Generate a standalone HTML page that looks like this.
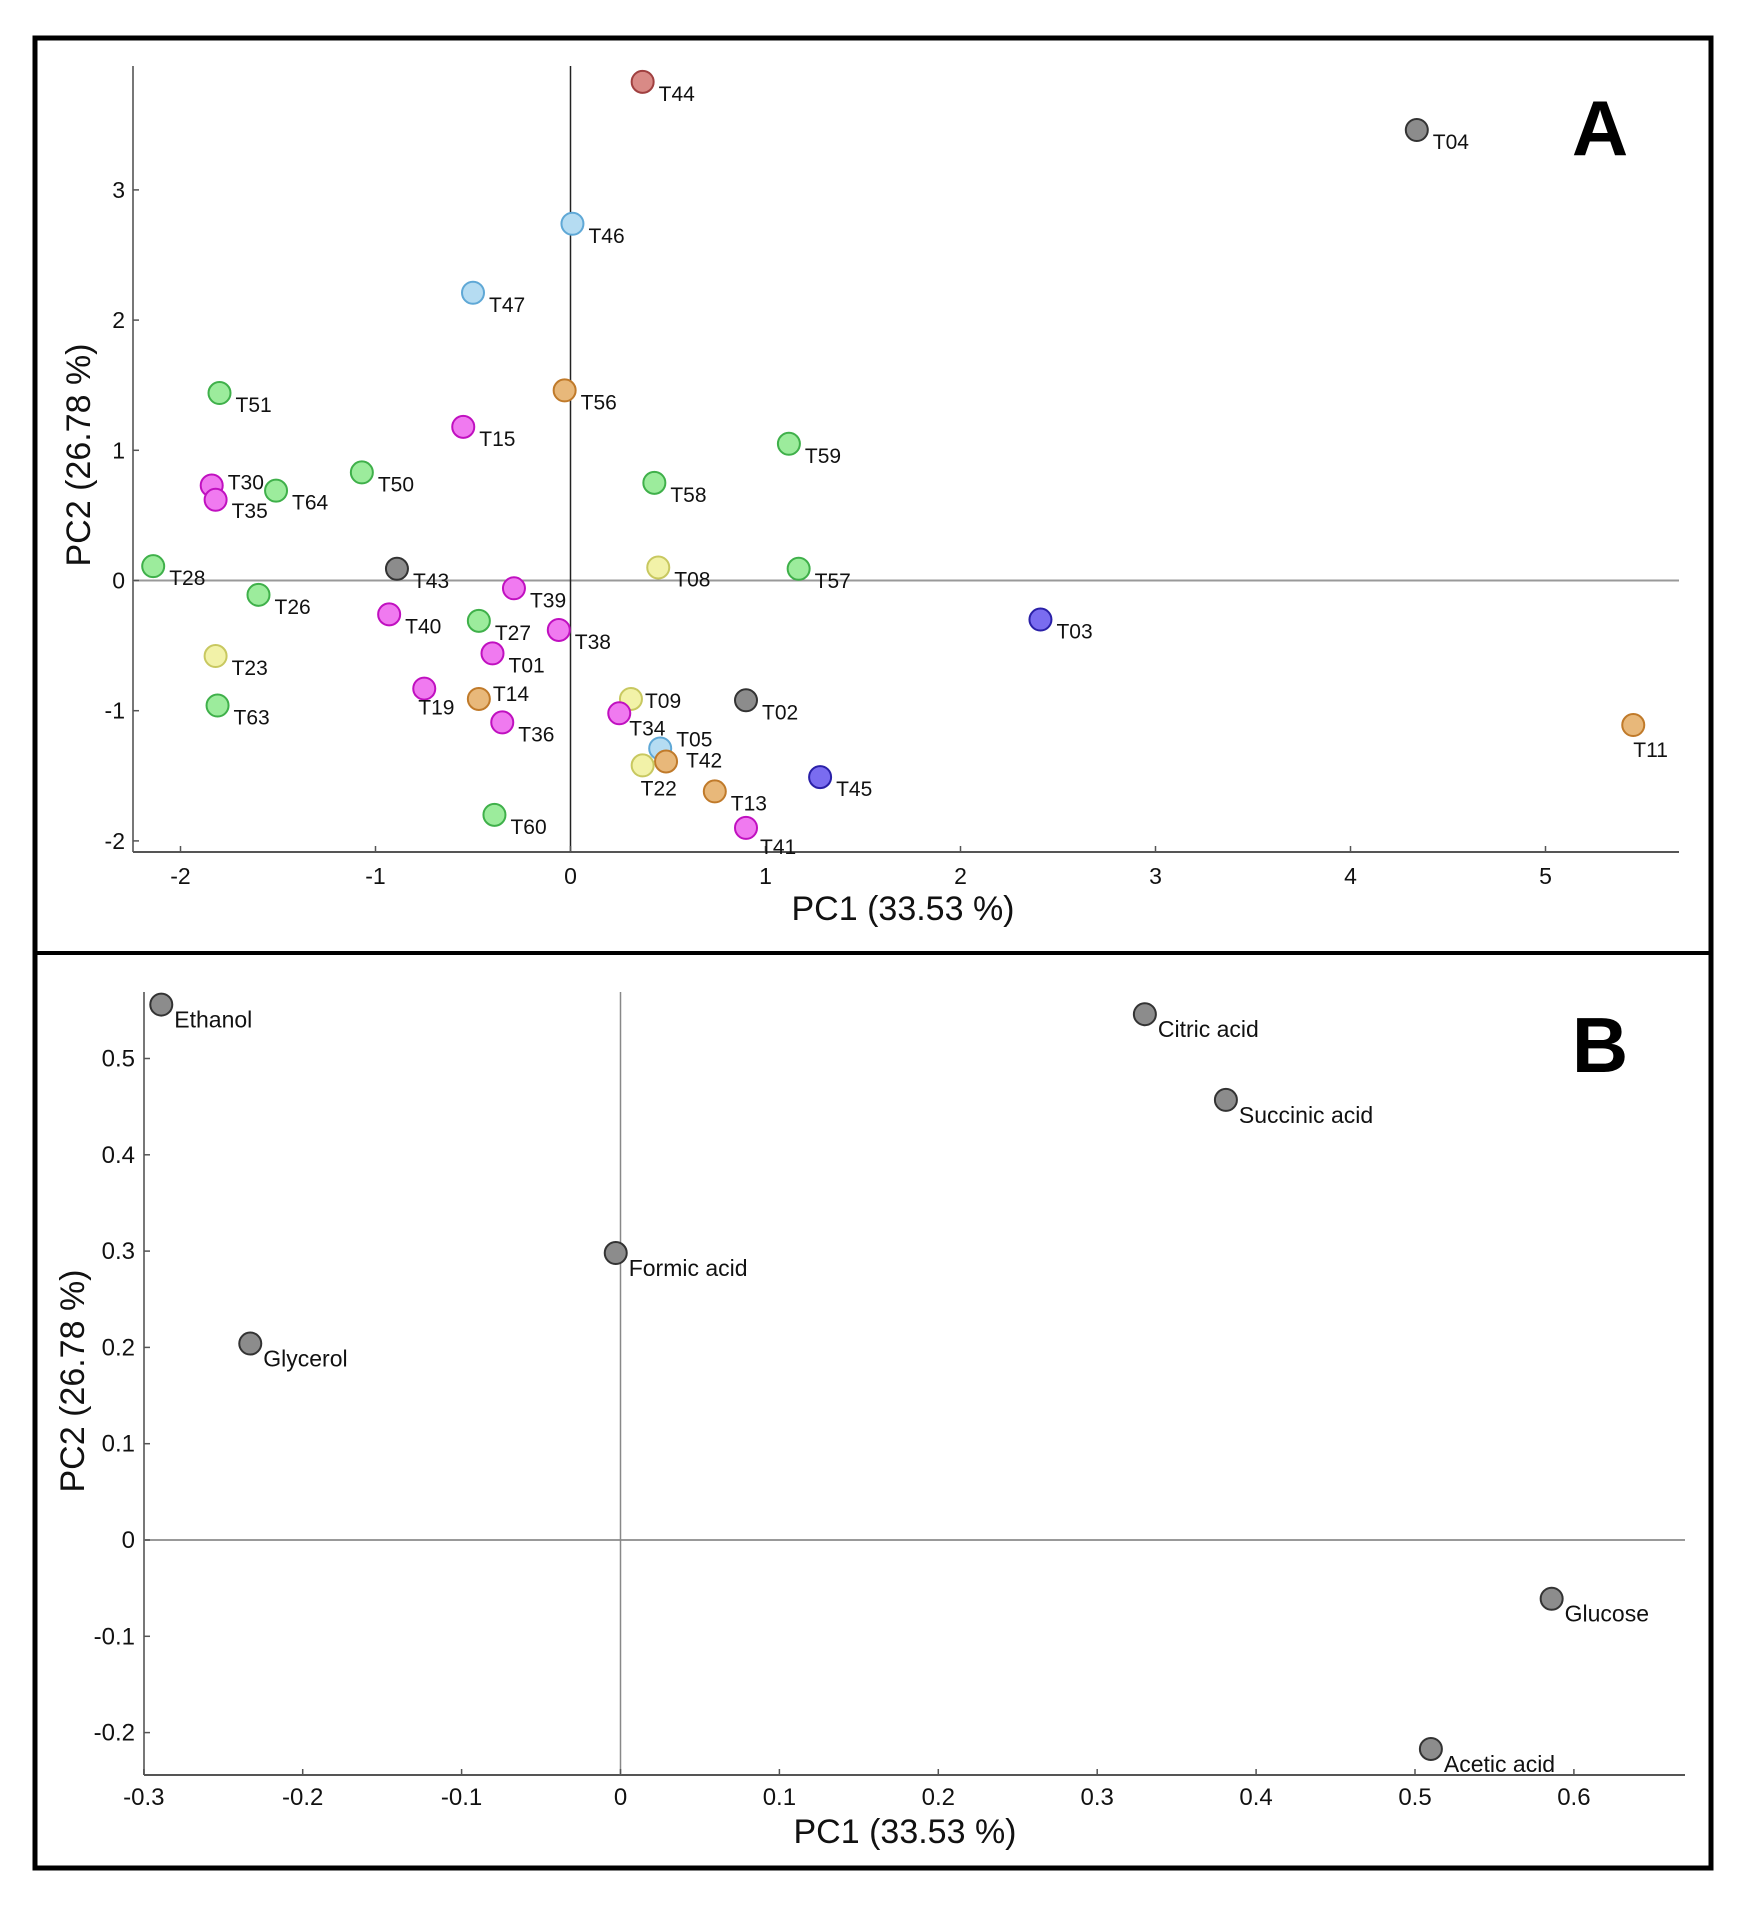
<!DOCTYPE html>
<html><head><meta charset="utf-8">
<style>
html,body{margin:0;padding:0;background:#fff;}
svg{display:block;font-family:"Liberation Sans",Arial,sans-serif;}
</style></head>
<body>
<svg id="chart" width="1748" height="1910" viewBox="0 0 1748 1910" xmlns="http://www.w3.org/2000/svg">
<rect x="35" y="38" width="1676" height="1830" fill="#fff" stroke="#000" stroke-width="5"/>
<line x1="35" y1="953" x2="1711" y2="953" stroke="#000" stroke-width="4"/>
<text x="1600" y="155" font-size="78" font-weight="bold" text-anchor="middle" fill="#000">A</text>
<text x="1600" y="1072" font-size="78" font-weight="bold" text-anchor="middle" fill="#000">B</text>
<g id="gA"></g>
<g id="gB"></g>
</svg>
<script>
// Panel A data
const aNames = ["T44","T04","T46","T47","T51","T56","T15","T59","T50","T58","T30","T64","T35","T28","T43","T08","T57","T39","T26","T40","T27","T03","T38","T01","T23","T09","T02","T19","T14","T63","T34","T36","T11","T05","T42","T22","T45","T13","T60","T41"];
const aPC1 = [0.37,4.34,0.01,-0.50,-1.80,-0.03,-0.55,1.12,-1.07,0.43,-1.84,-1.51,-1.82,-2.14,-0.89,0.45,1.17,-0.29,-1.60,-0.93,-0.47,2.41,-0.06,-0.40,-1.82,0.31,0.90,-0.75,-0.47,-1.81,0.25,-0.35,5.45,0.46,0.49,0.37,1.28,0.74,-0.39,0.90];
const aPC2 = [3.83,3.46,2.74,2.21,1.44,1.46,1.18,1.05,0.83,0.75,0.73,0.69,0.62,0.11,0.09,0.10,0.09,-0.06,-0.11,-0.26,-0.31,-0.30,-0.38,-0.56,-0.58,-0.91,-0.92,-0.83,-0.91,-0.96,-1.02,-1.09,-1.11,-1.29,-1.39,-1.42,-1.51,-1.62,-1.80,-1.90];
const aGroup = ["red","gray","blue","blue","green","orange","pink","green","green","green","pink","green","pink","green","gray","yellow","green","pink","green","pink","green","navy","pink","pink","yellow","yellow","gray","pink","orange","green","pink","pink","orange","blue","orange","yellow","navy","orange","green","pink"];
const aXTicks = [-2,-1,0,1,2,3,4,5];
const aYTicks = [-2,-1,0,1,2,3];
// Panel B data
const bNames = ["Ethanol","Citric acid","Succinic acid","Formic acid","Glycerol","Glucose","Acetic acid"];
const bPC1 = [-0.289,0.330,0.381,-0.003,-0.233,0.586,0.510];
const bPC2 = [0.556,0.546,0.457,0.298,0.204,-0.061,-0.217];
const bXTicks = [-0.3,-0.2,-0.1,0,0.1,0.2,0.3,0.4,0.5,0.6];
const bYTicks = [-0.2,-0.1,0,0.1,0.2,0.3,0.4,0.5];

const colors = {
  red:["#d98a86","#a04040"], gray:["#8c8c8c","#333"], blue:["#b5dcf2","#5fa8d6"],
  green:["#9cec9c","#3fb04a"], orange:["#e8b87a","#c07a2a"], pink:["#f07af0","#c010c0"],
  yellow:["#f2f2a8","#c8c860"], navy:["#7a6cf0","#2a20a8"]
};
const labelOff = {T19:[-6,22],T34:[10,18],T22:[-2,26],T41:[14,22],T11:[0,28],T05:[16,-6],T42:[20,2],T30:[16,0],T35:[16,14],T09:[14,5],T14:[14,-2]};

const NS="http://www.w3.org/2000/svg";
function mk(parent,tag,attrs,text){
  const e=document.createElementNS(NS,tag);
  for(const k in attrs) e.setAttribute(k,attrs[k]);
  if(text!==undefined) e.textContent=text;
  parent.appendChild(e); return e;
}
function fmt(v){return (Math.round(v*10)/10).toString();}

// Panel A axes
const ax = v => 570.5 + v*195;
const ay = v => 580.5 - v*130.2;
const gA=document.getElementById('gA');
let e;
e=mk(gA,'line',{x1:133,y1:66,x2:133,y2:852,stroke:"#777","stroke-width":2});


e=mk(gA,'line',{x1:133,y1:852,x2:1679,y2:852,stroke:"#555","stroke-width":2});


e=mk(gA,'line',{x1:133,y1:ay(0),x2:1679,y2:ay(0),stroke:"#999","stroke-width":2});


e=mk(gA,'line',{x1:ax(0),y1:66,x2:ax(0),y2:852,stroke:"#222","stroke-width":1.5});


aXTicks.forEach(t=>{
  e=mk(gA,'line',{x1:ax(t),y1:852,x2:ax(t),y2:846,stroke:"#555","stroke-width":1.5});
  
  
  e=mk(gA,'text',{x:ax(t),y:884,"font-size":23,"text-anchor":"middle",fill:"#111"},fmt(t));
  
  
});
aYTicks.forEach(t=>{
  e=mk(gA,'line',{x1:133,y1:ay(t),x2:139,y2:ay(t),stroke:"#555","stroke-width":1.5});
  
  
  e=mk(gA,'text',{x:125,y:ay(t)+8,"font-size":23,"text-anchor":"end",fill:"#111"},fmt(t));
  
  
});
e=mk(gA,'text',{x:903,y:920,"font-size":34,"text-anchor":"middle",fill:"#111"},"PC1 (33.53 %)");


e=mk(gA,'text',{x:90,y:455,"font-size":34,"text-anchor":"middle",fill:"#111",transform:"rotate(-90 90 455)"},"PC2 (26.78 %)");


aNames.forEach((n,i)=>{
  const cx=ax(aPC1[i]), cy=ay(aPC2[i]);
  const c=colors[aGroup[i]];
  e=mk(gA,'circle',{cx:cx,cy:cy,r:11,fill:c[0],stroke:c[1],"stroke-width":2});
  
  
  const o=labelOff[n]||[16,15];
  e=mk(gA,'text',{x:cx+o[0],y:cy+o[1]+4,"font-size":21,fill:"#111"},n);
  
  
});

// Panel B axes
const bx = v => 620.5 + v*1589;
const by = v => 1540 - v*963;
const gB=document.getElementById('gB');
e=mk(gB,'line',{x1:144,y1:992,x2:144,y2:1775,stroke:"#777","stroke-width":2});


e=mk(gB,'line',{x1:144,y1:1775,x2:1685,y2:1775,stroke:"#555","stroke-width":2});


e=mk(gB,'line',{x1:144,y1:by(0),x2:1685,y2:by(0),stroke:"#999","stroke-width":2});


e=mk(gB,'line',{x1:bx(0),y1:992,x2:bx(0),y2:1775,stroke:"#888","stroke-width":1.5});


bXTicks.forEach(t=>{
  e=mk(gB,'line',{x1:bx(t),y1:1775,x2:bx(t),y2:1769,stroke:"#555","stroke-width":1.5});
  
  
  e=mk(gB,'text',{x:bx(t),y:1805,"font-size":24,"text-anchor":"middle",fill:"#111"},fmt(t));
  
  
});
bYTicks.forEach(t=>{
  e=mk(gB,'line',{x1:144,y1:by(t),x2:150,y2:by(t),stroke:"#555","stroke-width":1.5});
  
  
  e=mk(gB,'text',{x:135,y:by(t)+8,"font-size":24,"text-anchor":"end",fill:"#111"},fmt(t));
  
  
});
e=mk(gB,'text',{x:905,y:1843,"font-size":34,"text-anchor":"middle",fill:"#111"},"PC1 (33.53 %)");


e=mk(gB,'text',{x:84,y:1381,"font-size":34,"text-anchor":"middle",fill:"#111",transform:"rotate(-90 84 1381)"},"PC2 (26.78 %)");


bNames.forEach((n,i)=>{
  const cx=bx(bPC1[i]), cy=by(bPC2[i]);
  e=mk(gB,'circle',{cx:cx,cy:cy,r:11,fill:"#8c8c8c",stroke:"#333","stroke-width":2});
  
  
  e=mk(gB,'text',{x:cx+13,y:cy+23,"font-size":23,fill:"#111"},n);
  
  
});
</script>
</body></html>
